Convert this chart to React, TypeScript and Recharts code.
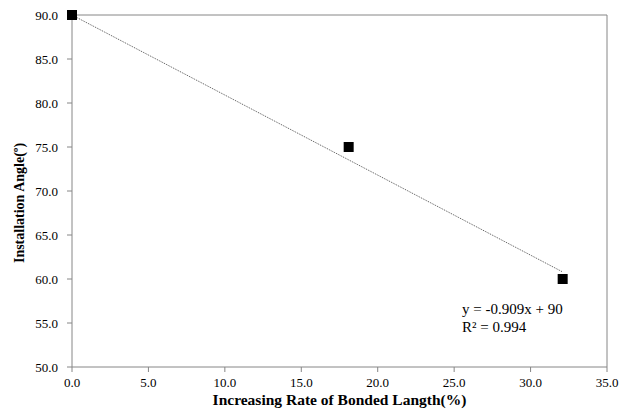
import React from 'react';
import { ScatterChart, Scatter, XAxis, YAxis, ReferenceLine } from 'recharts';

const rateValues = [0, 18.1, 32.1];
const angleValues = [90, 75, 60];
const trendX = [0, 32.1];
const trendY = [90, 60.8];
const xTicks = [0, 5, 10, 15, 20, 25, 30, 35];
const yTicks = [50, 55, 60, 65, 70, 75, 80, 85, 90];

const points = rateValues.map((x, i) => ({ x, y: angleValues[i] }));
const trend = trendX.map((x, i) => ({ x, y: trendY[i] }));

const serif = '"Liberation Serif", "Times New Roman", serif';
const axisGray = '#868686';

const Square = (props: any) => {
  const { cx, cy } = props;
  return <rect x={cx - 5} y={cy - 5} width={10} height={10} fill="#000" />;
};

const NoDot = () => <g />;

const XTick = (props: any) => {
  const { x, y, payload } = props;
  return (
    <text x={x} y={y + 9} textAnchor="middle" fontFamily={serif} fontSize={13} fill="#000">
      {Number(payload.value).toFixed(1)}
    </text>
  );
};

const YTick = (props: any) => {
  const { x, y, payload } = props;
  return (
    <text x={x} y={y + 4.5} textAnchor="end" fontFamily={serif} fontSize={13} fill="#000">
      {Number(payload.value).toFixed(1)}
    </text>
  );
};

// y label drawn by hand so it sits a bit below the plot's middle, like the original
const YLabel = (props: any) => {
  const vb = props.viewBox || {};
  const x = vb.x + 5;
  const y = vb.y + vb.height / 2 + 12;
  return (
    <text
      x={x}
      y={y}
      transform={`rotate(-90, ${x}, ${y})`}
      textAnchor="middle"
      style={{ fill: '#000', fontSize: 14, fontWeight: 'bold', fontFamily: serif }}
    >
      Installation Angle(º)
    </text>
  );
};

const App = () => {
  return (
    <div style={{ position: 'absolute', left: 0, top: 0, width: 626, height: 410, background: '#fff', fontFamily: serif }}>
      <ScatterChart width={626} height={410} margin={{ top: 15, right: 19, bottom: 0, left: 19 }}>
        <XAxis
          type="number"
          dataKey="x"
          domain={[0, 35]}
          ticks={xTicks}
          stroke={axisGray}
          tickSize={5}
          tickMargin={6}
          height={43}
          tick={<XTick />}
          label={{
            value: 'Increasing Rate of Bonded Langth(%)',
            position: 'insideBottom',
            offset: 5,
            style: { fill: '#000', fontSize: 15.5, fontWeight: 'bold', fontFamily: serif }
          }}
        />
        <YAxis
          type="number"
          dataKey="y"
          domain={[50, 90]}
          ticks={yTicks}
          stroke={axisGray}
          tickSize={5}
          tickMargin={9}
          width={53}
          tick={<YTick />}
          label={<YLabel />}
        />
        <ReferenceLine y={90} stroke={axisGray} />
        <ReferenceLine x={35} stroke={axisGray} />
        <Scatter
          data={trend}
          line={{ stroke: '#555', strokeWidth: 1, strokeDasharray: '1 1' }}
          shape={NoDot}
          isAnimationActive={false}
        />
        <Scatter data={points} shape={Square} isAnimationActive={false} />
      </ScatterChart>
      <div style={{ position: 'absolute', left: 462, top: 300, fontSize: 15, lineHeight: '18px', color: '#000' }}>
        <div>y = -0.909x + 90</div>
        <div>R² = 0.994</div>
      </div>
    </div>
  );
};

export default App;
